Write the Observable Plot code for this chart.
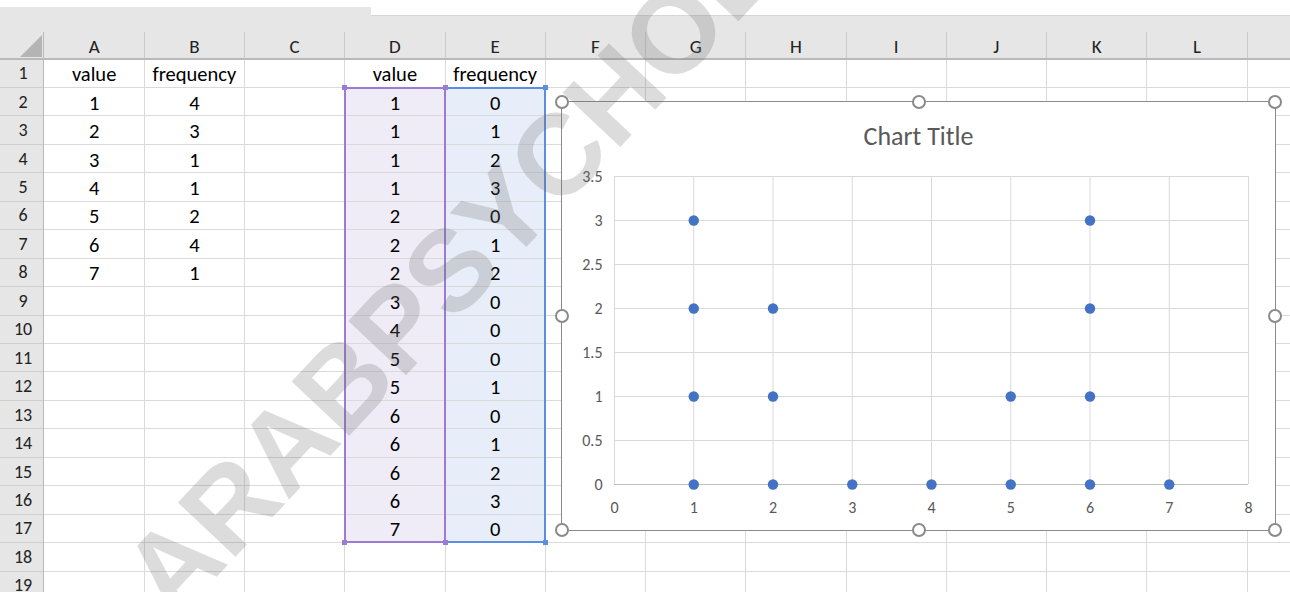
<!DOCTYPE html>
<html>
<head>
<meta charset="utf-8">
<script src="https://cdn.jsdelivr.net/npm/d3@7"></script>
<script src="https://cdn.jsdelivr.net/npm/@observablehq/plot@0.6"></script>
<style>
  html, body { margin: 0; padding: 0; background: #fff; }
  #root { position: relative; width: 1290px; height: 592px; overflow: hidden; background: #fff;
          font-family: Carlito, Lato, "Liberation Sans", sans-serif; }
  .abs { position: absolute; }
  .txt { position: absolute; transform: translate(-50%, -50%); white-space: nowrap; line-height: 1; }
  #root svg text { font-size: 16px; font-family: Carlito, Lato, "Liberation Sans", sans-serif; fill: #595959; }
</style>
</head>
<body>
<div id="root"></div>
<script>
// ---------------- data ----------------
const columnLetters = ["A","B","C","D","E","F","G","H","I","J","K","L"];
const rowNumbers = [1,2,3,4,5,6,7,8,9,10,11,12,13,14,15,16,17,18,19];
const headerLabels = ["value", "frequency"];
const listValue = [1,2,3,4,5,6,7];
const listFrequency = [4,3,1,1,2,4,1];
const dotValue = [1,1,1,1,2,2,2,3,4,5,5,6,6,6,6,7];
const dotFrequency = [0,1,2,3,0,1,2,0,0,0,1,0,1,2,3,0];
const xTicks = [0,1,2,3,4,5,6,7,8];
const yTicks = [0,0.5,1,1.5,2,2.5,3,3.5];
const chartTitle = "Chart Title";
const watermark = "ARABPSYCHOLOGY";

// ---------------- spreadsheet ----------------
const root = document.getElementById("root");
function add(cls, style, text) {
  const d = document.createElement("div");
  d.className = cls;
  Object.assign(d.style, style);
  if (text !== undefined) d.textContent = text;
  root.appendChild(d);
  return d;
}
const colW = 100.25, colX0 = 44, headTop = 32, rowTop0 = 59, rowH = 28.45;
const colLeft = i => colX0 + colW * i;
const rowTop = r => rowTop0 + rowH * (r - 1);

// top bar + headers
add("abs", {left: "0px", top: "7px", width: "371px", height: "10px", background: "#e6e6e6"});
add("abs", {left: "0px", top: "16px", width: "1290px", height: (rowTop0 - 16) + "px", background: "#e6e6e6"});
add("abs", {left: "371px", top: "15px", width: "919px", height: "1px", background: "#d6d6d6"});
add("abs", {left: "0px", top: rowTop0 + "px", width: "43px", height: (592 - rowTop0) + "px", background: "#e6e6e6"});
// corner triangle
add("abs", {left: "20px", top: "35px", width: "0px", height: "0px",
  borderLeft: "22px solid transparent", borderBottom: "22px solid #b4b4b4"});

// selection fills
add("abs", {left: colLeft(3) + "px", top: rowTop(2) + "px", width: colW + "px", height: (rowTop(18) - rowTop(2)) + "px", background: "#efebf7"});
add("abs", {left: colLeft(4) + "px", top: rowTop(2) + "px", width: colW + "px", height: (rowTop(18) - rowTop(2)) + "px", background: "#e8eef9"});

// gridlines (columns A..M)
for (let i = 0; i <= columnLetters.length; i++) {
  const x = colLeft(i + 1) - 0.5;
  add("abs", {left: x + "px", top: headTop + "px", width: "1px", height: (rowTop0 - headTop) + "px", background: "#cacaca"});
  add("abs", {left: x + "px", top: rowTop0 + "px", width: "1px", height: (592 - rowTop0) + "px", background: "#dadada"});
}
rowNumbers.forEach(r => {
  const y = rowTop(r + 1) - 0.5;
  add("abs", {left: "0px", top: y + "px", width: "43px", height: "1px", background: "#cfcfcf"});
  add("abs", {left: "43px", top: y + "px", width: "1247px", height: "1px", background: "#dadada"});
});
add("abs", {left: "0px", top: (rowTop0 - 1) + "px", width: "1290px", height: "1.5px", background: "#b9b9b9"});
add("abs", {left: "42.5px", top: headTop + "px", width: "1.5px", height: (592 - headTop) + "px", background: "#b9b9b9"});

// header texts
columnLetters.forEach((c, i) => {
  add("txt", {left: (colLeft(i) + colW / 2) + "px", top: "46px", fontSize: "19px", color: "#222"}, c);
});
rowNumbers.forEach(r => {
  add("txt", {left: "23px", top: (rowTop(r) + rowH / 2) + "px", fontSize: "18px", color: "#222"}, String(r));
});

// cell texts
const cellFont = {fontSize: "20.5px", color: "#000"};
function cell(col, row, text) {
  add("txt", Object.assign({left: (colLeft(col) + colW / 2) + "px", top: (rowTop(row) + rowH / 2 + 1) + "px"}, cellFont), String(text));
}
cell(0, 1, headerLabels[0]); cell(1, 1, headerLabels[1]);
cell(3, 1, headerLabels[0]); cell(4, 1, headerLabels[1]);
listValue.forEach((v, i) => { cell(0, i + 2, v); cell(1, i + 2, listFrequency[i]); });
dotValue.forEach((v, i) => { cell(3, i + 2, v); cell(4, i + 2, dotFrequency[i]); });

// selection borders
const sTop = rowTop(2), sBot = rowTop(18);
const purple = "#9b7bd4", blue = "#5b8ede";
add("abs", {left: (colLeft(3) - 0.75) + "px", top: (sTop - 0.75) + "px", width: (colW + 1) + "px", height: (sBot - sTop + 1.5) + "px", border: "2px solid " + purple, boxSizing: "border-box", borderRight: "none"});
add("abs", {left: (colLeft(4) - 0.75) + "px", top: (sTop - 0.75) + "px", width: (colW + 1.5) + "px", height: (sBot - sTop + 1.5) + "px", border: "2px solid " + blue, boxSizing: "border-box"});
add("abs", {left: (colLeft(4) - 1) + "px", top: (sTop - 0.75) + "px", width: "2px", height: (sBot - sTop + 1.5) + "px", background: purple});
[[colLeft(3), sTop, purple], [colLeft(4), sTop, purple], [colLeft(3), sBot, purple], [colLeft(4), sBot, purple], [colLeft(5), sTop, blue], [colLeft(5), sBot, blue]]
  .forEach(([x, y, c]) => add("abs", {left: (x - 2.5) + "px", top: (y - 2.5) + "px", width: "5px", height: "5px", background: c}));

// ---------------- chart ----------------
const cx = 562, cy = 102, cw = 713, ch = 428;
add("abs", {left: (cx - 0.75) + "px", top: (cy - 0.75) + "px", width: (cw + 1.5) + "px", height: (ch + 1.5) + "px",
  border: "1.5px solid #8a8a8a", boxSizing: "border-box", background: "#fff"});

const points = dotValue.map((v, i) => ({value: v, frequency: dotFrequency[i]}));
const chart = Plot.plot({
  width: cw, height: ch,
  marginLeft: 52, marginRight: 27, marginTop: 74, marginBottom: 46,
  style: {fontFamily: "Carlito, Lato, 'Liberation Sans', sans-serif", fontSize: "16px", color: "#595959", background: "transparent"},
  x: {domain: [0, 8], ticks: xTicks, tickSize: 0, tickPadding: 17, label: null, tickFormat: d => String(d)},
  y: {domain: [0, 3.5], ticks: yTicks, tickSize: 0, tickPadding: 12, label: null, tickFormat: d => String(d)},
  marks: [
    Plot.ruleX(xTicks, {stroke: "#d9d9d9", strokeWidth: 1}),
    Plot.ruleY(yTicks, {stroke: "#d9d9d9", strokeWidth: 1}),
    Plot.ruleY([0], {stroke: "#bfbfbf", strokeWidth: 1.2}),
    Plot.dot(points, {x: "value", y: "frequency", r: 5.2, fill: "#4472C4", stroke: null})
  ]
});
chart.style.position = "absolute";
chart.style.left = cx + "px";
chart.style.top = cy + "px";
root.appendChild(chart);

add("txt", {left: (cx + cw / 2) + "px", top: (cy + 34) + "px", fontSize: "26px", color: "#595959"}, chartTitle);

// handles
[[0,0],[0.5,0],[1,0],[0,0.5],[1,0.5],[0,1],[0.5,1],[1,1]].forEach(([fx, fy]) => {
  add("abs", {left: (cx + fx * cw - 7) + "px", top: (cy + fy * ch - 7) + "px", width: "14px", height: "14px",
    borderRadius: "50%", border: "2px solid #8a8a8a", background: "#fff", boxSizing: "border-box"});
});

// ---------------- watermark ----------------
add("abs", {left: "536px", top: "179px", transform: "translate(-50%, -50%) rotate(-46.8deg)",
  fontFamily: "'Liberation Sans', Arial, sans-serif", fontWeight: "bold", fontSize: "115px", lineHeight: "1",
  color: "rgba(110,110,110,0.24)", whiteSpace: "nowrap", pointerEvents: "none"}, watermark);
</script>
</body>
</html>
